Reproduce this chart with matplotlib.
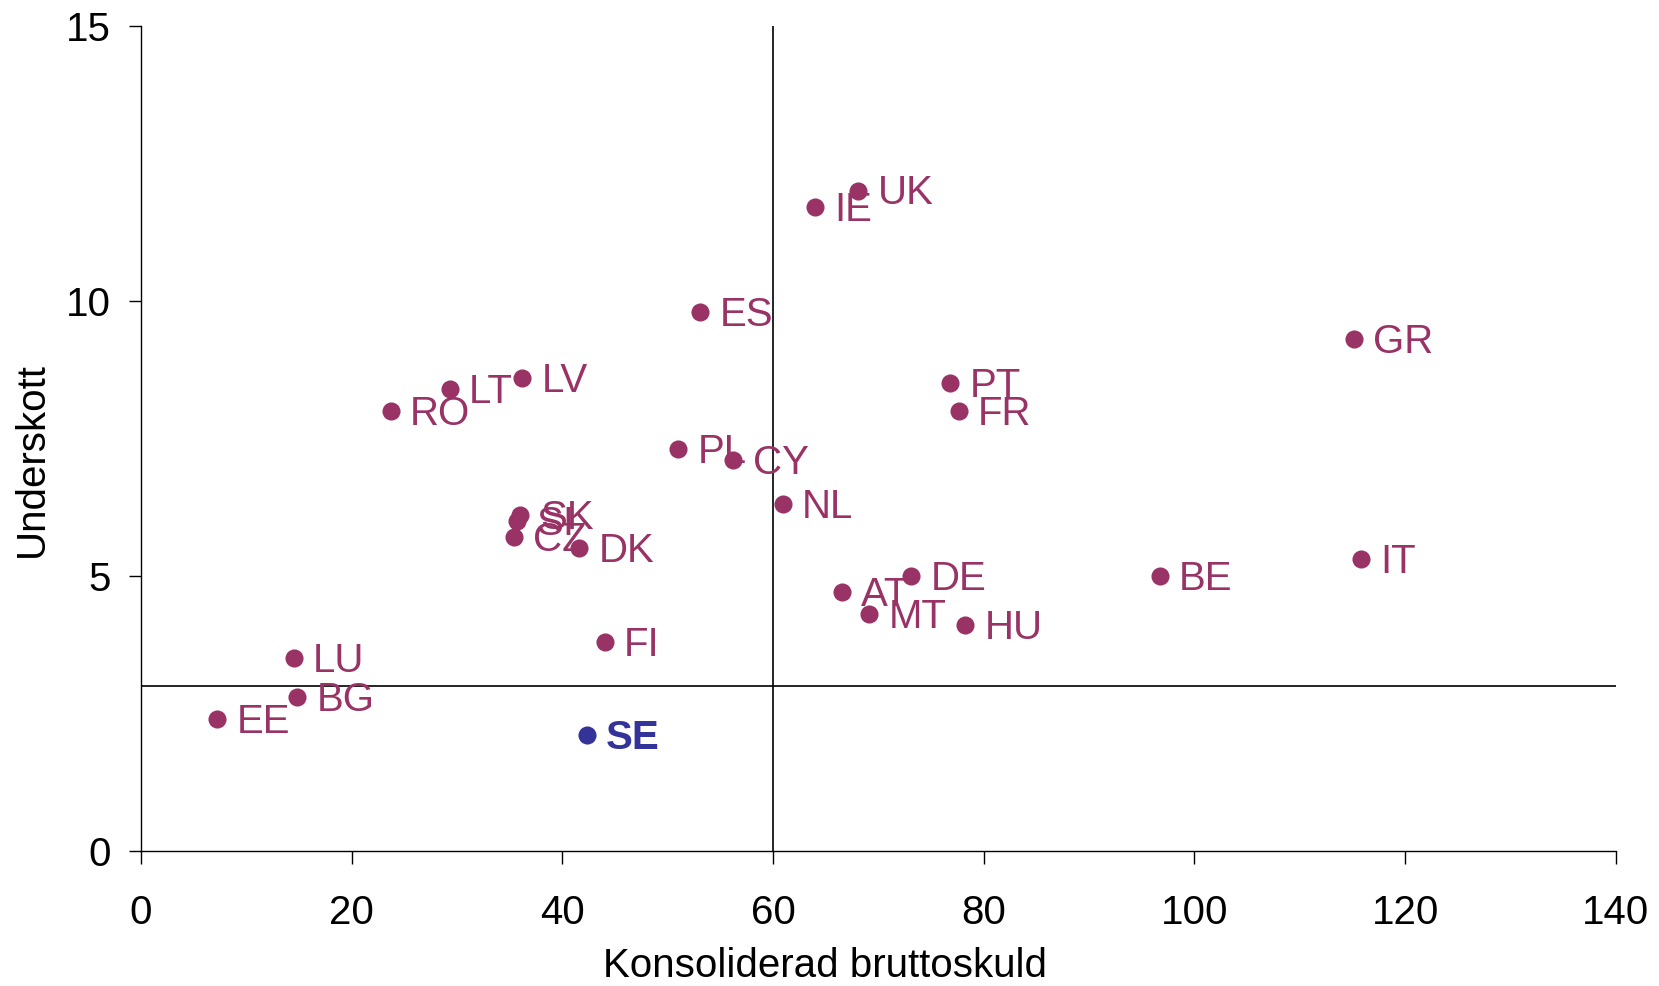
import matplotlib
matplotlib.use("Agg")
import matplotlib.pyplot as plt

plt.rcParams['font.family'] = ['Liberation Sans', 'DejaVu Sans']

# country codes, debt (x) and deficit (y)
countries = ["UK", "IE", "ES", "GR", "PT", "FR", "LV", "LT", "RO", "PL", "CY", "NL",
             "SK", "SI", "CZ", "DK", "IT", "DE", "BE", "AT", "MT", "HU", "FI", "LU",
             "BG", "EE", "SE"]
debt = [68.1, 64.0, 53.1, 115.1, 76.8, 77.6, 36.2, 29.3, 23.7, 51.0, 56.2, 60.9,
        36.0, 35.7, 35.4, 41.6, 115.8, 73.1, 96.7, 66.5, 69.1, 78.2, 44.0, 14.5,
        14.8, 7.2, 42.3]
deficit = [12.0, 11.7, 9.8, 9.3, 8.5, 8.0, 8.6, 8.4, 8.0, 7.3, 7.1, 6.3,
           6.1, 6.0, 5.7, 5.5, 5.3, 5.0, 5.0, 4.7, 4.3, 4.1, 3.8, 3.5,
           2.8, 2.4, 2.1]

debt_limit = 60
deficit_limit = 3

plum = "#993366"
navy = "#333399"

fig = plt.figure(figsize=(16.59, 9.86), dpi=100)
ax = fig.add_axes([0.085, 0.137, 0.889, 0.837])

for c, x, y in zip(countries, debt, deficit):
    col = navy if c == "SE" else plum
    ax.scatter(x, y, s=170, color=col, zorder=3, linewidths=0)
    ax.annotate(c, (x, y), xytext=(14, -2), textcoords="offset points",
                va="center", ha="left", fontsize=29, color=col,
                fontweight="bold" if c == "SE" else "normal")

ax.axvline(debt_limit, color="black", lw=1.2, zorder=1)
ax.axhline(deficit_limit, color="black", lw=1.2, zorder=1)

ax.set_xlim(0, 140)
ax.set_ylim(0, 15)
ax.set_xticks(range(0, 141, 20))
ax.set_yticks([0, 5, 10, 15])
ax.tick_params(direction="out", length=9, width=1.0, labelsize=29, colors="black")
ax.tick_params(axis="x", pad=22)
ax.tick_params(axis="y", pad=13)
for s in ["top", "right"]:
    ax.spines[s].set_visible(False)
for s in ["left", "bottom"]:
    ax.spines[s].set_linewidth(1.0)

ax.set_xlabel("Konsoliderad bruttoskuld", fontsize=29)
ax.set_ylabel("Underskott", fontsize=29)
ax.xaxis.set_label_coords(0.464, -0.117)
ax.yaxis.set_label_coords(-0.061, 0.474)

fig.savefig("out.png", dpi=100)
